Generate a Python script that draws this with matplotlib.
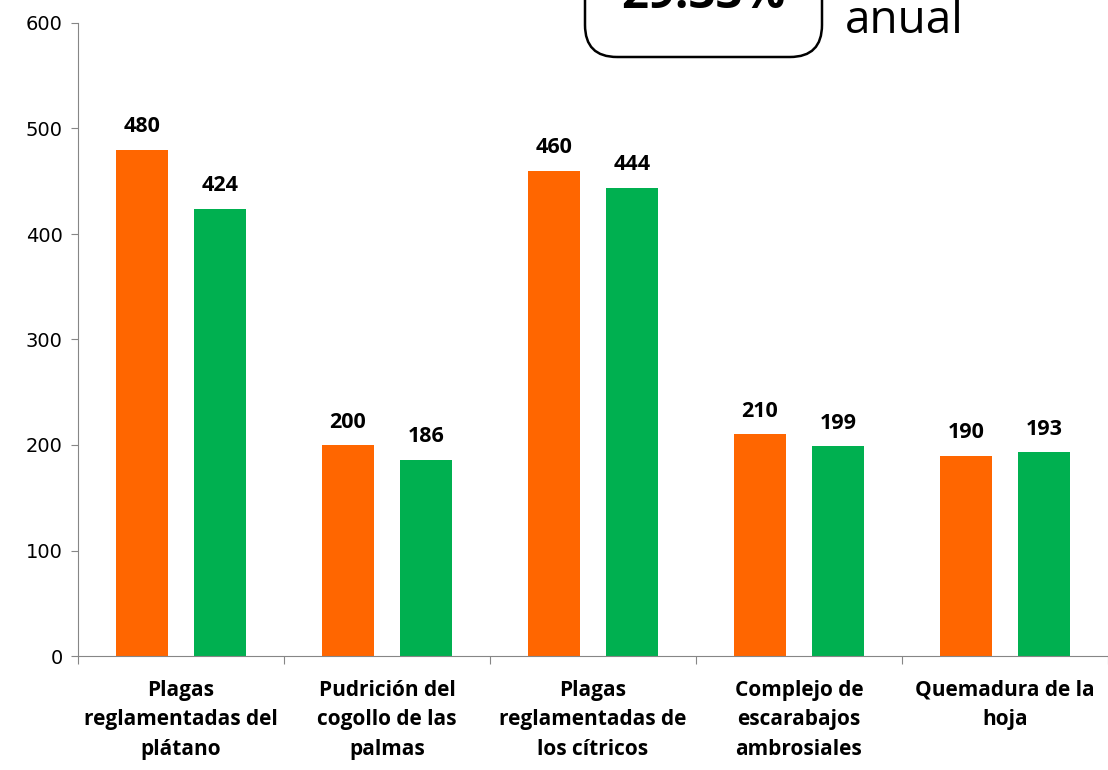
import matplotlib.pyplot as plt
import numpy as np
from matplotlib.patches import FancyBboxPatch
from matplotlib.transforms import IdentityTransform

categorias = [
    "Plagas\nreglamentadas del\nplátano",
    "Pudrición del\ncogollo de las\npalmas",
    "Plagas\nreglamentadas de\nlos cítricos",
    "Complejo de\nescarabajos\nambrosiales",
    "Quemadura de la\nhoja",
]
serie_naranja = [480, 200, 460, 210, 190]
serie_verde = [424, 186, 444, 199, 193]

W, H = 1108, 770
fig = plt.figure(figsize=(W / 100, H / 100), dpi=100)
ax = fig.add_axes([78 / W, (H - 656) / H, (W - 78) / W, 633 / H])

x = np.arange(len(categorias))
bw = 0.25
off = 0.19
b1 = ax.bar(x - off, serie_naranja, bw, color="#FF6600")
b2 = ax.bar(x + off, serie_verde, bw, color="#00B050")

for bars in (b1, b2):
    for r in bars:
        ax.annotate(f"{int(r.get_height())}", (r.get_x() + r.get_width() / 2, r.get_height()),
                    xytext=(0, 9), textcoords="offset points", ha="center", va="bottom",
                    fontsize=15.5, fontweight="bold", family="Open Sans")

ax.set_xlim(-0.5, 4.49)
ax.set_ylim(0, 600)
ax.set_yticks(range(0, 601, 100))
ax.tick_params(axis="y", labelsize=14, length=5, color="#868686", pad=6)
ax.set_xticks(np.arange(-0.5, 4.6, 1))
ax.set_xticklabels([])
ax.tick_params(axis="x", length=6, color="#868686")
ax.set_xticks(x, minor=True)
ax.set_xticklabels(categorias, minor=True, fontsize=15, fontweight="bold",
                   family="Open Sans", linespacing=1.55)
ax.tick_params(axis="x", which="minor", length=0, pad=17)
for s in ("top", "right"):
    ax.spines[s].set_visible(False)
for s in ("left", "bottom"):
    ax.spines[s].set_color("#868686")

# recuadro superior (cortado)
box = FancyBboxPatch((585, H - 57), 237, 120, boxstyle="round,pad=0,rounding_size=32",
                     transform=IdentityTransform(), fill=False, ec="black", lw=1.8,
                     clip_on=False)
fig.patches.append(box)
fig.text(703 / W, (H - 8) / H, "29.33%", ha="center", va="baseline", fontsize=34,
         fontweight="bold", family="Open Sans")
fig.text(845 / W, (H - 33) / H, "anual", ha="left", va="baseline", fontsize=33,
         family="Open Sans")

fig.savefig("out.png", dpi=100)
